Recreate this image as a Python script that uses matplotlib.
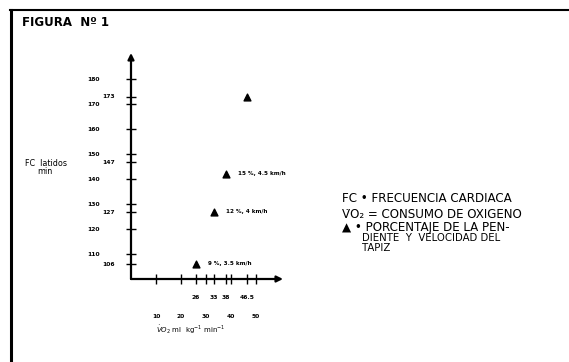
import matplotlib
matplotlib.use("Agg")
import matplotlib.pyplot as plt
from matplotlib.lines import Line2D

# values
vo2 = [26, 33, 38, 46.5]          # ml/kg/min
fc = [106, 127, 142, 173]         # latidos/min (as drawn)
etiquetas = ["9 %, 3.5 km/h", "12 %, 4 km/h", "15 %, 4.5 km/h", ""]

x_major = [10, 20, 30, 40, 50]
x_minor = [26, 33, 38, 46.5]
x_minor_lbl = ["26", "33", "38", "46.5"]
y_major = [110, 120, 130, 140, 150, 160, 170, 180]
y_minor = [106, 127, 147, 173]

W, H = 569, 362
fig = plt.figure(figsize=(W / 100, H / 100), dpi=100)
plt.rcParams['font.family'] = ['DejaVu Sans']

# axes placed where the drawn axes sit in the scan
ax = fig.add_axes([131 / W, (H - 279) / H, 152 / W, 226 / H])
ax.set_xlim(0, 152 / 2.5)
ax.set_ylim(100, 100 + 226 / 2.5)
for s in ax.spines.values():
    s.set_visible(False)
ax.patch.set_alpha(0)

# axis lines with arrow heads
ax.annotate("", xy=(ax.get_xlim()[1], 100), xytext=(0, 100),
            arrowprops=dict(arrowstyle="-|>", lw=1.6, color="k", mutation_scale=9,
                            shrinkA=0, shrinkB=0), annotation_clip=False)
ax.annotate("", xy=(0, ax.get_ylim()[1]), xytext=(0, 100),
            arrowprops=dict(arrowstyle="-|>", lw=1.6, color="k", mutation_scale=9,
                            shrinkA=0, shrinkB=0), annotation_clip=False)

ax.set_xticks(x_major)
ax.set_xticklabels([str(v) for v in x_major])
ax.set_xticks(x_minor, minor=True)
ax.set_xticklabels(x_minor_lbl, minor=True)
ax.set_yticks(y_major)
ax.set_yticklabels([str(v) for v in y_major])
ax.set_yticks(y_minor, minor=True)
ax.set_yticklabels([str(v) for v in y_minor], minor=True)

ax.tick_params(which="both", direction="inout", length=7, width=1, labelsize=4.3)
ax.tick_params(axis="x", which="major", pad=22)
ax.tick_params(axis="x", which="minor", pad=8)
ax.tick_params(axis="y", which="major", pad=19)
ax.tick_params(axis="y", which="minor", pad=8)
for lbl in ax.get_xticklabels(which="both") + ax.get_yticklabels(which="both"):
    lbl.set_fontweight("bold")

ax.scatter(vo2, fc, marker="^", s=24, color="k", zorder=3, clip_on=False)
for x, y, t in zip(vo2, fc, etiquetas):
    ax.annotate(t, (x, y), xytext=(9, 0), textcoords="offset points",
                fontsize=4.1, fontweight="bold", va="center")

# axis titles
fig.text(25 / W, 1 - 163 / H, "FC  latidos", fontsize=5.8, va="center")
fig.text(37 / W, 1 - 172 / H, "min", fontsize=5.8, va="center")
fig.text(156 / W, 1 - 330 / H, r"$\dot{V}O_2$ ml  kg$^{-1}$ min$^{-1}$",
         fontsize=5, va="center")

# title and frame of the scanned page
fig.text(22 / W, 1 - 22 / H, "FIGURA  Nº 1", fontsize=8.5, fontweight="bold", va="center")
fig.add_artist(Line2D([10 / W, 1], [1 - 10 / H] * 2, transform=fig.transFigure,
                      lw=1.5, color="k"))
fig.add_artist(Line2D([11 / W] * 2, [0, 1 - 10 / H], transform=fig.transFigure,
                      lw=2.2, color="k"))

# key
leyenda = [
    (342, 199, "FC • FRECUENCIA CARDIACA", 8.6),
    (342, 214, "V\u0307O\u2082 = CONSUMO DE OXIGENO", 8.6),
    (342, 227, "▲ • PORCENTAJE DE LA PEN-", 8.6),
    (362, 238, "DIENTE  Y  VELOCIDAD DEL", 7.3),
    (362, 248, "TAPIZ", 7.3),
]
for x, y, t, fs in leyenda:
    fig.text(x / W, 1 - y / H, t, fontsize=fs, va="center")

fig.savefig("out.png", dpi=100)
